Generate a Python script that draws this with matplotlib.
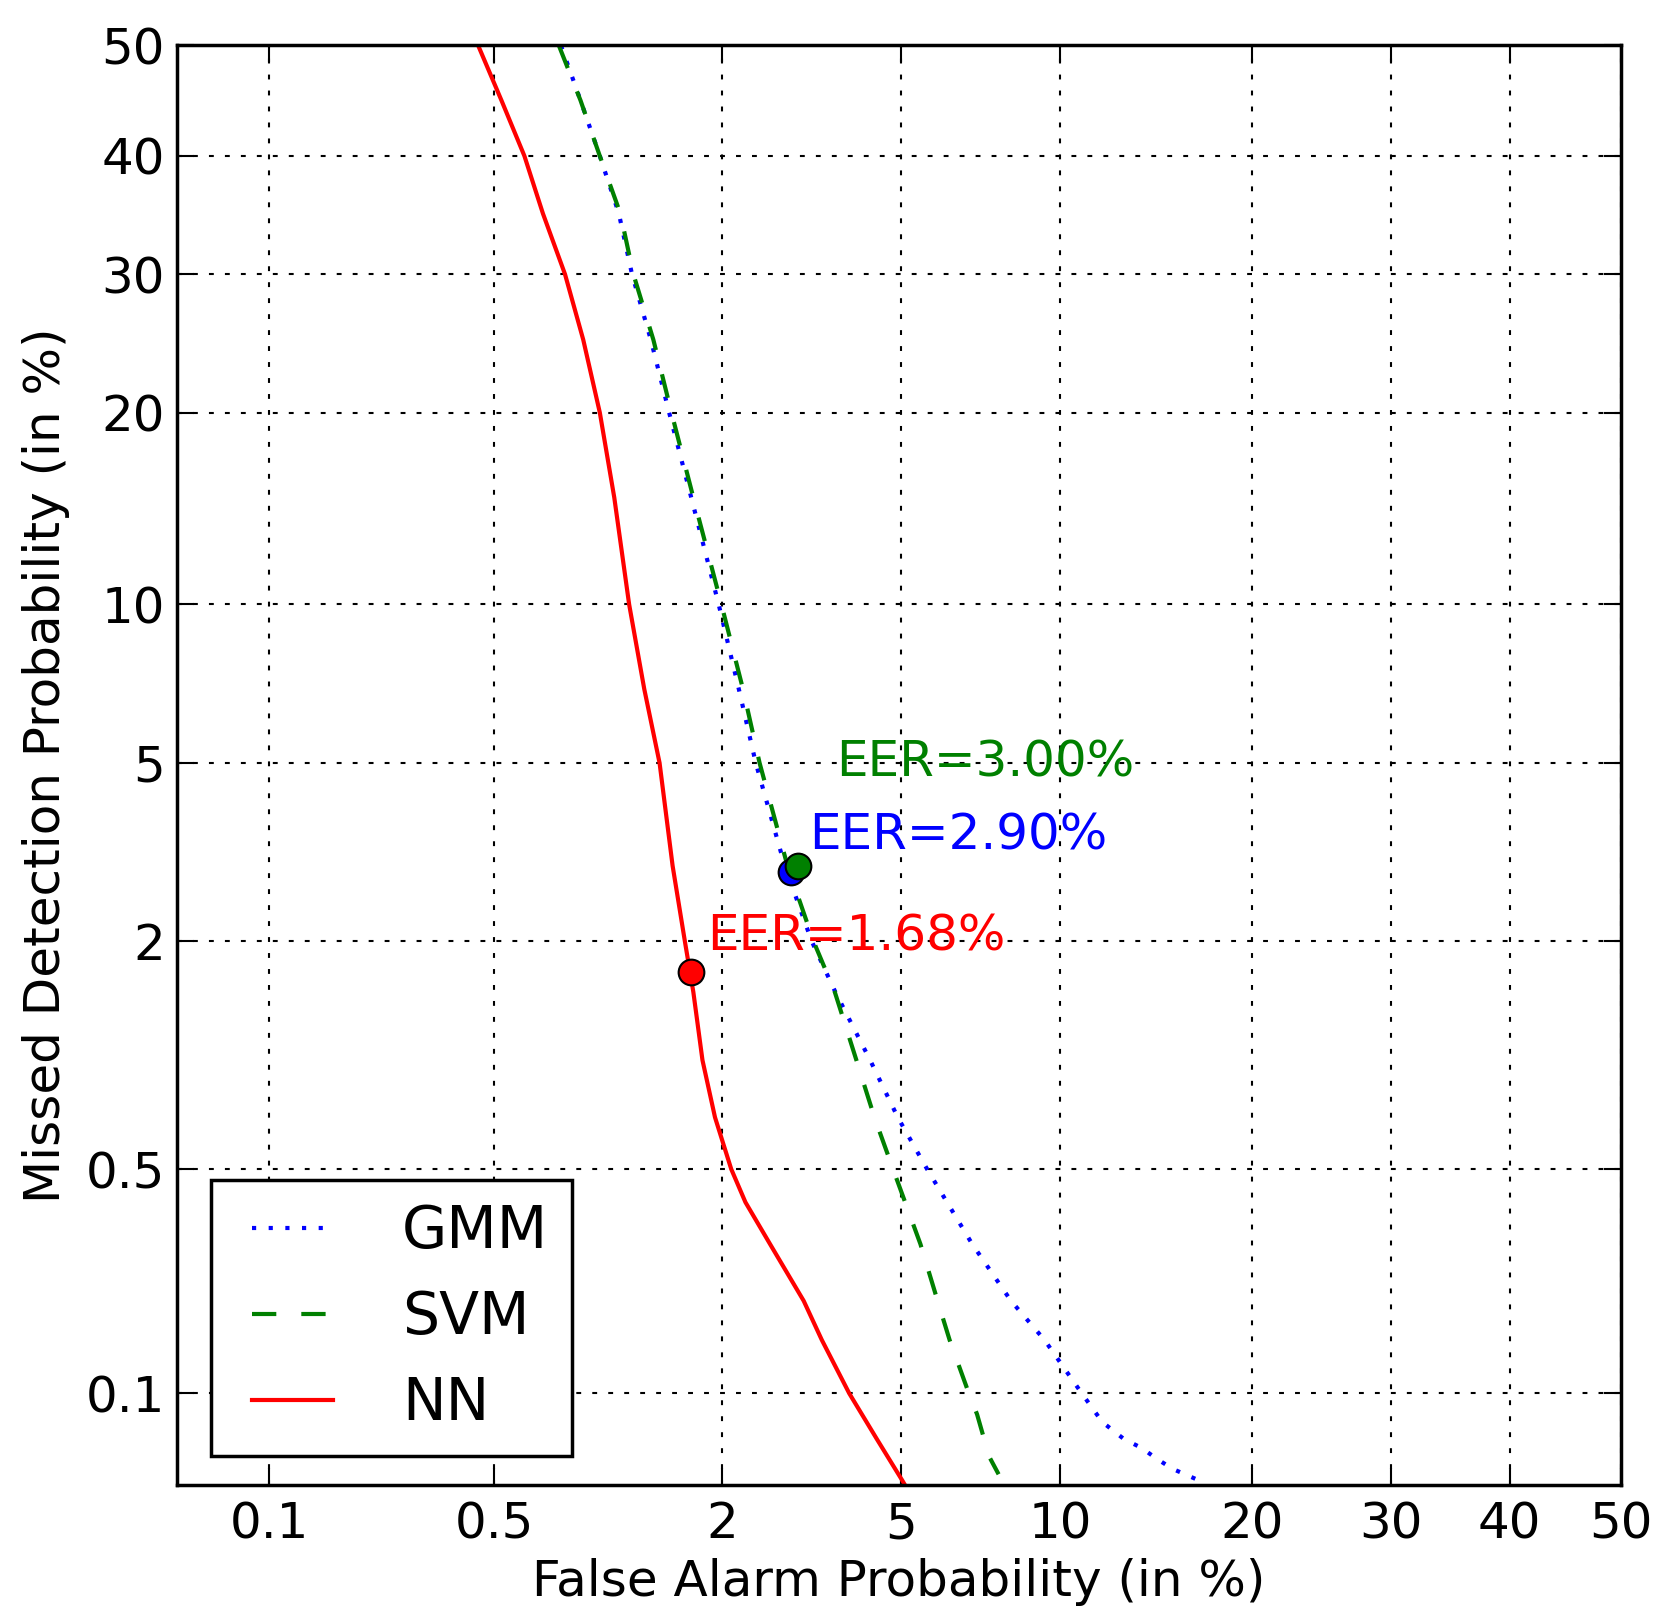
import math
import numpy as np
import matplotlib
matplotlib.use('Agg')
import matplotlib.pyplot as plt
from matplotlib.ticker import FixedLocator, FixedFormatter, NullLocator

# DET curves (values in %)
gmm_miss = [50, 45, 40, 35, 30, 25, 20, 15, 10, 7, 5, 3, 2, 1.5, 1, 0.7, 0.5,
            0.3, 0.2, 0.15, 0.1, 0.08, 0.07, 0.065, 0.06, 0.055, 0.05]
gmm_fa = [0.77, 0.87, 0.98, 1.10, 1.19, 1.33, 1.48, 1.68, 1.96, 2.19, 2.40, 2.80,
          3.22, 3.63, 4.31, 4.92, 5.64, 6.91, 8.17, 9.39, 10.9, 11.8, 12.8, 13.7,
          14.4, 15.3, 16.8]

svm_miss = [50, 45, 40, 35, 30, 25, 20, 15, 10, 7, 5, 3, 2, 1.5, 1, 0.7, 0.5,
            0.3, 0.2, 0.15, 0.1, 0.085, 0.07, 0.06, 0.0527]
svm_fa = [0.76, 0.87, 0.98, 1.11, 1.20, 1.35, 1.50, 1.70, 1.99, 2.24, 2.45, 2.84,
          3.25, 3.62, 4.03, 4.40, 4.81, 5.47, 5.92, 6.25, 6.81, 7.06, 7.28, 7.47,
          7.75]

nn_miss = [50, 45, 40, 35, 30, 25, 20, 15, 10, 7, 5, 3, 2, 1.5, 1, 0.7, 0.5,
           0.4, 0.3, 0.2, 0.15, 0.1, 0.07, 0.05, 0.048]
nn_fa = [0.45, 0.525, 0.61, 0.687, 0.79, 0.885, 0.98, 1.07, 1.17, 1.28, 1.40,
         1.51, 1.62, 1.70, 1.79, 1.92, 2.10, 2.27, 2.59, 3.09, 3.39, 3.89, 4.45,
         5.03, 5.1]

eer_gmm = 2.90
eer_svm = 3.00
eer_nn = 1.68

ticks = [0.1, 0.5, 2, 5, 10, 20, 30, 40, 50]
tick_labels = ['0.1', '0.5', '2', '5', '10', '20', '30', '40', '50']


# normal deviate scale (Acklam approximation of the inverse normal cdf)
A = [-3.969683028665376e+01, 2.209460984245205e+02, -2.759285104469687e+02,
     1.383577518672690e+02, -3.066479806614716e+01, 2.506628277459239e+00]
B = [-5.447609879822406e+01, 1.615858368580409e+02, -1.556989798598866e+02,
     6.680131188771972e+01, -1.328068155288572e+01]
C = [-7.784894002430293e-03, -3.223964580411365e-01, -2.400758277161838e+00,
     -2.549732539343734e+00, 4.374664141464968e+00, 2.938163982698783e+00]
D = [7.784695709041462e-03, 3.224671290700398e-01, 2.445134137142996e+00,
     3.754408661907416e+00]


def probit(x):
    p = np.clip(np.asarray(x, dtype=float) / 100.0, 1e-12, 1 - 1e-12)
    q = np.sqrt(-2 * np.log(np.where(p < 0.5, p, 1 - p)))
    tail = ((((((C[0]*q + C[1])*q + C[2])*q + C[3])*q + C[4])*q + C[5]) /
            ((((D[0]*q + D[1])*q + D[2])*q + D[3])*q + 1))
    tail = np.where(p < 0.5, tail, -tail)
    r0 = p - 0.5
    r = r0 * r0
    mid = ((((((A[0]*r + A[1])*r + A[2])*r + A[3])*r + A[4])*r + A[5]) * r0 /
           (((((B[0]*r + B[1])*r + B[2])*r + B[3])*r + B[4])*r + 1))
    return np.where((p >= 0.02425) & (p <= 1 - 0.02425), mid, tail)


_erf = np.vectorize(math.erf, otypes=[float])


def inv_probit(z):
    z = np.asarray(z, dtype=float)
    return 100.0 * 0.5 * (1 + _erf(z / math.sqrt(2)))


plt.rcParams['font.family'] = 'DejaVu Sans'
plt.rcParams['lines.scale_dashes'] = False

fs = 36

fig = plt.figure(figsize=(16.57, 16.07), dpi=100)
ax = fig.add_axes([0.107, 0.076, 0.871, 0.8957])
ax.set_xscale('function', functions=(probit, inv_probit))
ax.set_yscale('function', functions=(probit, inv_probit))

ax.plot(gmm_fa, gmm_miss, color='b', linestyle=(0, (3, 9)), lw=3, label='GMM')
ax.plot(svm_fa, svm_miss, color='g', linestyle=(0, (17.5, 18)), lw=3, label='SVM')
ax.plot(nn_fa, nn_miss, color='r', lw=3, label='NN')

# EER points
ax.plot([eer_nn], [eer_nn], 'o', color='r', ms=18.5, mec='k', mew=1.5, zorder=5)
ax.plot([eer_gmm], [eer_gmm], 'o', color='b', ms=18.5, mec='k', mew=1.5, zorder=5)
ax.plot([eer_svm], [eer_svm], 'o', color='g', ms=18.5, mec='k', mew=1.5, zorder=6)
ax.annotate('EER=%.2f%%' % eer_nn, (eer_nn, eer_nn), xytext=(11.5, 16),
            textcoords='offset points', color='r', fontsize=fs, va='baseline')
ax.annotate('EER=%.2f%%' % eer_gmm, (eer_gmm, eer_gmm), xytext=(13, 16.5),
            textcoords='offset points', color='b', fontsize=fs, va='baseline')
ax.annotate('EER=%.2f%%' % eer_svm, (eer_svm, eer_svm), xytext=(27.5, 64),
            textcoords='offset points', color='g', fontsize=fs, va='baseline')

lo = float(inv_probit(-3.30))
ax.set_xlim(lo, 50)
ax.set_ylim(lo, 50)
for axis in (ax.xaxis, ax.yaxis):
    axis.set_major_locator(FixedLocator(ticks))
    axis.set_major_formatter(FixedFormatter(tick_labels))
    axis.set_minor_locator(NullLocator())

ax.grid(True, color='k', linestyle=(0, (3.5, 8)), linewidth=1.5)
ax.tick_params(which='both', direction='in', top=True, right=True,
               length=12, width=1.5, labelsize=fs)
ax.tick_params(axis='x', pad=11)
ax.tick_params(axis='y', pad=9)
for s in ax.spines.values():
    s.set_linewidth(2.5)

ax.set_xlabel('False Alarm Probability (in %)', fontsize=fs, labelpad=7)
ax.set_ylabel('Missed Detection Probability (in %)', fontsize=fs, labelpad=11)

leg = ax.legend(loc='lower left', numpoints=2, fontsize=42, fancybox=False,
                framealpha=1, edgecolor='k', handletextpad=0.88,
                bbox_to_anchor=(0.003, 0.0))
leg.get_frame().set_linewidth(2.5)

fig.savefig('out.png', dpi=100)
